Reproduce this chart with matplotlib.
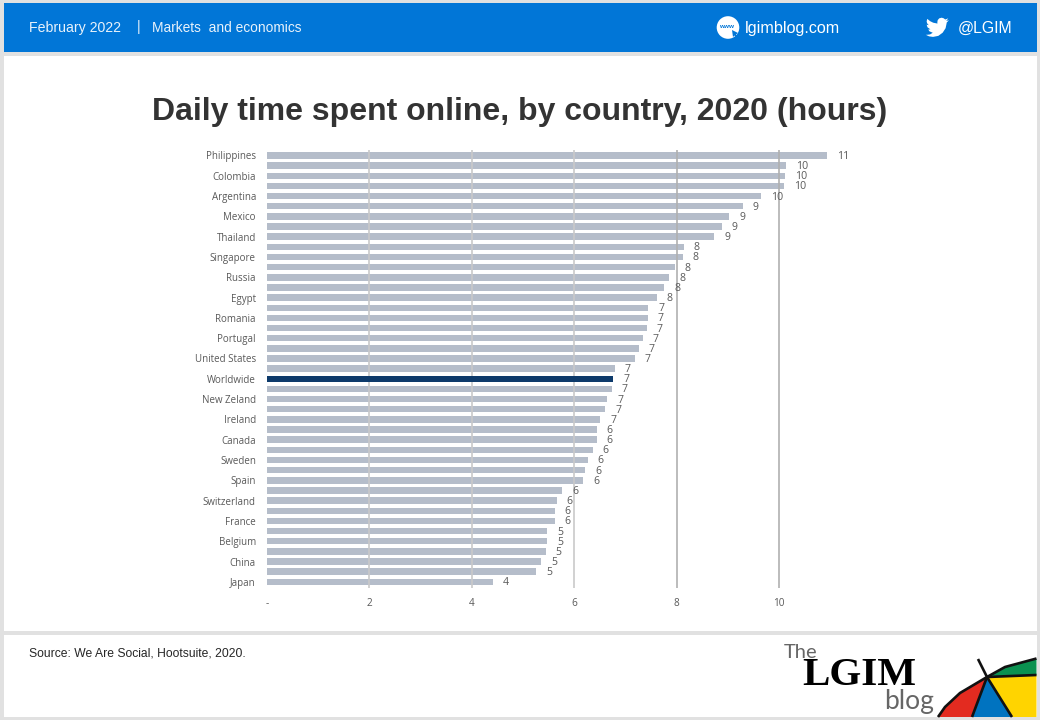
import matplotlib
matplotlib.use('Agg')
import matplotlib.pyplot as plt
from matplotlib.patches import Circle, Polygon, Rectangle

W, H = 1040, 720

countries = ['Philippines', '', 'Colombia', '', 'Argentina', '', 'Mexico', '', 'Thailand', '',
             'Singapore', '', 'Russia', '', 'Egypt', '', 'Romania', '', 'Portugal', '',
             'United States', '', 'Worldwide', '', 'New Zeland', '', 'Ireland', '', 'Canada', '',
             'Sweden', '', 'Spain', '', 'Switzerland', '', 'France', '', 'Belgium', '',
             'China', '', 'Japan']
hours = [10.94, 10.14, 10.12, 10.10, 9.65, 9.29, 9.03, 8.88, 8.74, 8.14,
         8.12, 7.96, 7.86, 7.76, 7.61, 7.45, 7.44, 7.42, 7.34, 7.26,
         7.18, 6.79, 6.76, 6.73, 6.65, 6.61, 6.51, 6.44, 6.44, 6.36,
         6.26, 6.21, 6.18, 5.77, 5.66, 5.62, 5.62, 5.47, 5.47, 5.44,
         5.36, 5.26, 4.41]
x_ticks = [0, 2, 4, 6, 8, 10]
x_tick_labels = ['-', '2', '4', '6', '8', '10']

BLUE = '#0176d7'
BAR = '#b5bdca'
NAVY = '#0d3a6b'
TEXT = '#595959'

fig = plt.figure(figsize=(W / 100, H / 100), dpi=100, facecolor='#e1e1e1')

# page furniture, in pixel coordinates
page = fig.add_axes([0, 0, 1, 1])
page.set_xlim(0, W)
page.set_ylim(H, 0)
page.axis('off')
page.add_patch(Rectangle((4, 3), 1032.5, 49, color=BLUE, lw=0))
page.add_patch(Rectangle((4, 56), 1032.5, 575, color='white', lw=0))
page.add_patch(Rectangle((4, 635), 1032.5, 82, color='white', lw=0))

sans = 'Liberation Sans'
page.text(29, 28, 'February 2022', color='#e8f2fb', fontsize=10.2, family=sans, va='center')
page.text(138.5, 27.5, '|', color='#e8f2fb', fontsize=10.2, family=sans, va='center', ha='center')
page.text(152, 27.5, 'Markets  and economics', color='#e8f2fb', fontsize=9.95, family=sans, va='center')
page.text(745, 28.5, 'lgimblog.com', color='white', fontsize=11.6, family=sans, va='center')
page.text(958, 28.5, '@LGIM', color='white', fontsize=11.4, family=sans, va='center')
page.text(29, 653, 'Source: We Are Social, Hootsuite, 2020.', color='#262626', fontsize=8.7, family=sans, va='center')
page.text(520, 112, 'Daily time spent online, by country, 2020 (hours)', color='#333333', fontsize=23,
          family=sans, weight='bold', ha='center', va='center')

# www icon
page.add_patch(Circle((728, 27.5), 11.3, color='white', lw=0))
page.text(727, 27, 'www', color=BLUE, fontsize=4.6, family=sans, weight='bold', ha='center', va='center')
page.add_patch(Polygon([(732, 30), (738, 33), (736, 34.5), (738, 37), (736.5, 38), (734.5, 35.5), (733, 37)],
                       color=BLUE, lw=0))

# twitter bird, traced on a 24 unit box
bird = [(23.95, 4.57), (21.13, 5.35), (23.29, 2.62), (20.16, 3.81), (18.5, 2.55), (16.5, 1.95), (14, 2.6),
        (12.4, 4.4), (12, 6.5), (12.1, 8.0), (7.7, 7.1), (4.5, 5.5), (1.64, 3.16), (0.97, 5.64), (1.4, 7.6),
        (3.16, 9.73), (0.93, 9.12), (1.9, 11.9), (4.88, 14.0), (2.67, 14.09), (3.7, 15.9), (7.27, 17.5),
        (4.5, 19.2), (1.17, 19.6), (0, 19.54), (3.5, 21.2), (7.56, 21.75), (13, 20.7), (17.5, 17.4),
        (20.5, 12.8), (21.56, 7.77), (21.55, 7.14)]
page.add_patch(Polygon([(925.7 + x * 0.97, 15.8 + y * 0.97) for x, y in bird], color='white', lw=0))

# logo
page.text(784, 652, 'The', color='#666666', fontsize=14.5, family='Lato', va='center')
page.text(802, 675.5, 'LGIM', color='black', fontsize=29.5, family='Liberation Serif', weight='bold', va='center')
page.text(884, 701, 'blog', color='#666666', fontsize=19, family='Lato', va='center')

apex = (987, 677)
page.add_patch(Polygon([apex, (1005, 667), (1036.5, 659), (1036.5, 675)], color='#0b9150', lw=0))
page.add_patch(Polygon([apex, (1036.5, 675), (1036.5, 717), (1012, 717)], color='#ffd400', lw=0))
page.add_patch(Polygon([apex, (1012, 717), (972, 717)], color='#0073c0', lw=0))
page.add_patch(Polygon([apex, (972, 717), (938, 717), (945, 707), (960, 693)], color='#e32b20', lw=0))
for pts in [[(978, 659), apex, (972, 717)], [apex, (1012, 717)], [apex, (1036.5, 675)],
            [(938, 717), (945, 707), (960, 693), apex, (1005, 667), (1036.5, 658.5)]]:
    page.plot(*zip(*pts), color='#111111', lw=1.9, solid_capstyle='butt')

# chart, axes placed so that one hour is 51.2 px and one row 10.15 px
left, right, top, bottom = 267, 860, 150, 588
ax = fig.add_axes([left / W, 1 - bottom / H, (right - left) / W, (bottom - top) / H])
ax.patch.set_alpha(0)
ax.set_xlim(0, (right - left) / 51.2)
ax.set_ylim((bottom - 155.5) / 10.15, (top - 155.5) / 10.15)

rows = list(range(len(hours)))
colors = [NAVY if c == 'Worldwide' else BAR for c in countries]
bars = ax.barh(rows, hours, height=0.64, color=colors, zorder=2)
bars[countries.index('Worldwide')].set_zorder(4)

for v in x_ticks[1:]:
    ax.axvline(v, color='#c9c9c9' if v < 8 else '#b0b0b0', lw=1.2, zorder=3)

for row, value in zip(rows, hours):
    ax.annotate(f'{value:.0f}', (value, row), xytext=(7.2, -0.7), textcoords='offset points',
                ha='left', va='center', fontsize=7.6, family='Open Sans', color=TEXT, zorder=5)

ax.set_yticks(rows, countries, fontsize=7, family='Open Sans', color=TEXT)
ax.set_xticks(x_ticks, x_tick_labels, fontsize=7.2, family='Open Sans', color=TEXT)
ax.tick_params(axis='both', length=0)
ax.tick_params(axis='y', pad=8)
ax.tick_params(axis='x', pad=7)
for spine in ax.spines.values():
    spine.set_visible(False)

fig.savefig('out.png', dpi=100, facecolor=fig.get_facecolor())
